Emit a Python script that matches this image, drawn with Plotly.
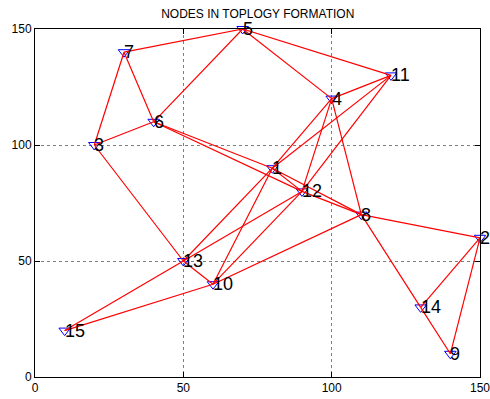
import plotly.graph_objects as go

# Node coordinates (node i sits at index i-1)
node_ids = list(range(1, 16))
node_x = [80, 150, 20, 100, 70, 40, 30, 110, 140, 60, 120, 90, 50, 130, 10]
node_y = [90, 60, 100, 120, 150, 110, 140, 70, 10, 40, 130, 80, 50, 30, 20]

# Links between node pairs
links = [
    (1, 4), (1, 6), (1, 8), (1, 10), (1, 11), (1, 12), (1, 13),
    (2, 8), (2, 9), (2, 14),
    (3, 6), (3, 7), (3, 13),
    (4, 5), (4, 8), (4, 11), (4, 12),
    (5, 6), (5, 7), (5, 11),
    (6, 7), (6, 12),
    (8, 10), (8, 12), (8, 14),
    (9, 14),
    (10, 12), (10, 13), (10, 15),
    (11, 12), (12, 13), (13, 15),
]

tick_vals = [0, 50, 100, 150]

fig = go.Figure()

# node markers
fig.add_trace(go.Scatter(
    x=node_x, y=node_y, mode="markers",
    marker=dict(symbol="triangle-down-open", size=10,
                color="#0000ff", line=dict(width=1, color="#0000ff")),
    hoverinfo="skip", showlegend=False, cliponaxis=False,
))

# link segments
lx, ly = [], []
for a, b in links:
    lx += [node_x[a - 1], node_x[b - 1], None]
    ly += [node_y[a - 1], node_y[b - 1], None]
fig.add_trace(go.Scatter(
    x=lx, y=ly, mode="lines",
    line=dict(color="#ff0000", width=1.2),
    hoverinfo="skip", showlegend=False,
))

# node numbers
for i, x, y in zip(node_ids, node_x, node_y):
    fig.add_annotation(
        x=x, y=y, text=str(i), showarrow=False,
        xanchor="left", yanchor="middle", xshift=-2,
        font=dict(family="Liberation Sans, Arial", size=18, color="#000000"),
    )

axis_common = dict(
    range=[0, 150], tickvals=tick_vals, ticktext=[str(v) for v in tick_vals],
    showline=True, linecolor="#000000", linewidth=1, mirror="allticks",
    ticks="inside", ticklen=5, tickcolor="#000000",
    showgrid=True, gridcolor="#7f7f7f", griddash="dot", gridwidth=1,
    zeroline=False, automargin=False, ticklabeloverflow="allow",
    tickfont=dict(family="Liberation Sans, Arial", size=12, color="#000000"),
)

fig.update_layout(
    width=490, height=399,
    margin=dict(l=35, r=10, t=29, b=22, autoexpand=False),
    paper_bgcolor="#ffffff", plot_bgcolor="#ffffff",
    xaxis=dict(**axis_common),
    yaxis=dict(**axis_common),
    title=dict(text="NODES IN TOPLOGY FORMATION", x=0.526, xanchor="center",
               y=0.965, yanchor="middle",
               font=dict(family="Liberation Sans, Arial", size=12, color="#000000")),
)

fig.write_html("out.html")
